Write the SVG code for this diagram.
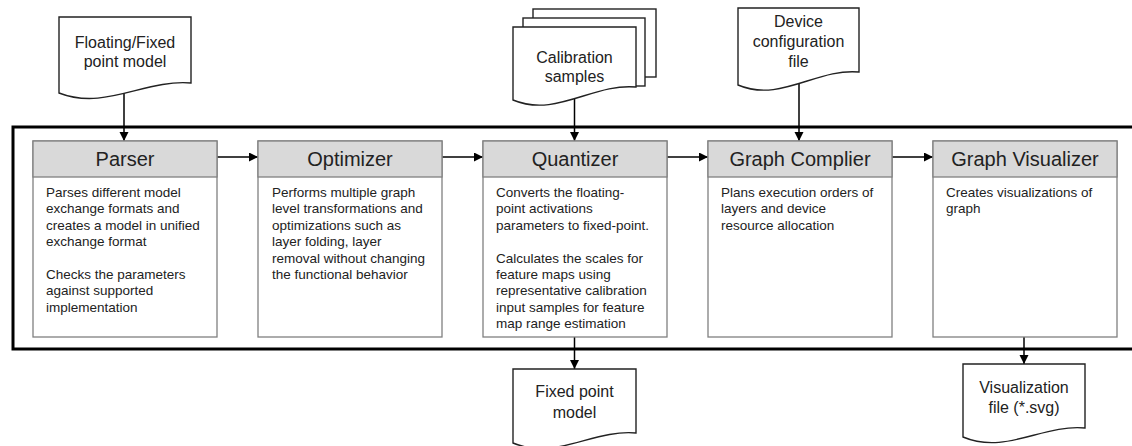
<svg xmlns="http://www.w3.org/2000/svg" width="1132" height="446" viewBox="0 0 1132 446">
  <style>
    .frame { fill: none; stroke: #000; stroke-width: 3; }
    .box { fill: #fff; stroke: #808080; stroke-width: 1.3; }
    .head { fill: #d9d9d9; stroke: #808080; stroke-width: 1.3; }
    .doc { fill: #fff; stroke: #222; stroke-width: 1.4; }
    .title { font-family: "Liberation Sans", Arial, sans-serif; font-size: 20px; fill: #222; text-anchor: middle; }
    .body { font-family: "Liberation Sans", Arial, sans-serif; font-size: 13.5px; fill: #222; }
    .doctext { font-family: "Liberation Sans", Arial, sans-serif; font-size: 16px; fill: #222; text-anchor: middle; }
    .conn { fill: none; stroke: #000; stroke-width: 1.5; marker-end: url(#arrow); }
  </style>
  <defs>
    <marker id="arrow" markerUnits="userSpaceOnUse" markerWidth="10" markerHeight="10" refX="9" refY="4.5" orient="auto">
      <path d="M0,0 L9,4.5 L0,9 Z" fill="#000"/>
    </marker>
  </defs>

  <rect width="1132" height="446" fill="#fff"/>

  <!-- container frame -->
  <g id="frame">
    <rect class="frame" x="13" y="127" width="1135" height="222"/>
  </g>

  <!-- connectors -->
  <g id="connectors">
    <line class="conn" x1="124" y1="92" x2="124" y2="141"/>
    <line class="conn" x1="574.5" y1="98" x2="574.5" y2="141"/>
    <line class="conn" x1="799" y1="84" x2="799" y2="141"/>
    <line class="conn" x1="217" y1="157" x2="258" y2="157"/>
    <line class="conn" x1="442" y1="157" x2="483" y2="157"/>
    <line class="conn" x1="667" y1="157" x2="708" y2="157"/>
    <line class="conn" x1="892" y1="157" x2="933" y2="157"/>
    <line class="conn" x1="574.5" y1="337" x2="574.5" y2="369"/>
    <line class="conn" x1="1024" y1="337" x2="1024" y2="364"/>
  </g>

  <!-- input documents -->
  <g id="doc-model">
    <path class="doc" d="M59,17 H191 V83 C144.8,79 105.2,111 59,93 Z"/>
    <text class="doctext" x="125" y="48">Floating/Fixed</text>
    <text class="doctext" x="125" y="67">point model</text>
  </g>

  <g id="doc-calibration">
    <rect class="doc" x="533" y="9" width="123" height="68"/>
    <rect class="doc" x="523" y="18" width="122" height="68"/>
    <path class="doc" d="M513,27 H636 V87 C593,83 556,118 513,100 Z"/>
    <text class="doctext" x="574.5" y="63">Calibration</text>
    <text class="doctext" x="574.5" y="82">samples</text>
  </g>

  <g id="doc-device">
    <path class="doc" d="M738,8 H859 V72 C816.7,68 780.4,103 738,85 Z"/>
    <text class="doctext" x="798.5" y="27">Device</text>
    <text class="doctext" x="798.5" y="47">configuration</text>
    <text class="doctext" x="798.5" y="67">file</text>
  </g>

  <!-- pipeline stages -->
  <g id="parser">
    <rect class="box" x="33" y="141" width="184" height="196"/>
    <rect class="head" x="33" y="141" width="184" height="36"/>
    <text class="title" x="125" y="166">Parser</text>
    <text class="body" x="46" y="197">
      <tspan x="46">Parses different model</tspan>
      <tspan x="46" dy="16.4">exchange formats and</tspan>
      <tspan x="46" dy="16.4">creates a model in unified</tspan>
      <tspan x="46" dy="16.4">exchange format</tspan>
      <tspan x="46" dy="32.8">Checks the parameters</tspan>
      <tspan x="46" dy="16.4">against supported</tspan>
      <tspan x="46" dy="16.4">implementation</tspan>
    </text>
  </g>

  <g id="optimizer">
    <rect class="box" x="258" y="141" width="184" height="196"/>
    <rect class="head" x="258" y="141" width="184" height="36"/>
    <text class="title" x="350" y="166">Optimizer</text>
    <text class="body" x="272" y="197">
      <tspan x="272">Performs multiple graph</tspan>
      <tspan x="272" dy="16.4">level transformations and</tspan>
      <tspan x="272" dy="16.4">optimizations such as</tspan>
      <tspan x="272" dy="16.4">layer folding, layer</tspan>
      <tspan x="272" dy="16.4">removal without changing</tspan>
      <tspan x="272" dy="16.4">the functional behavior</tspan>
    </text>
  </g>

  <g id="quantizer">
    <rect class="box" x="483" y="141" width="184" height="196"/>
    <rect class="head" x="483" y="141" width="184" height="36"/>
    <text class="title" x="575" y="166">Quantizer</text>
    <text class="body" x="496" y="197">
      <tspan x="496">Converts the floating-</tspan>
      <tspan x="496" dy="16.4">point activations</tspan>
      <tspan x="496" dy="16.4">parameters to fixed-point.</tspan>
      <tspan x="496" dy="32.8">Calculates the scales for</tspan>
      <tspan x="496" dy="16.4">feature maps using</tspan>
      <tspan x="496" dy="16.4">representative calibration</tspan>
      <tspan x="496" dy="16.4">input samples for feature</tspan>
      <tspan x="496" dy="16.4">map range estimation</tspan>
    </text>
  </g>

  <g id="graph-compiler">
    <rect class="box" x="708" y="141" width="184" height="196"/>
    <rect class="head" x="708" y="141" width="184" height="36"/>
    <text class="title" x="800" y="166">Graph Complier</text>
    <text class="body" x="721" y="197">
      <tspan x="721">Plans execution orders of</tspan>
      <tspan x="721" dy="16.4">layers and device</tspan>
      <tspan x="721" dy="16.4">resource allocation</tspan>
    </text>
  </g>

  <g id="graph-visualizer">
    <rect class="box" x="933" y="141" width="184" height="196"/>
    <rect class="head" x="933" y="141" width="184" height="36"/>
    <text class="title" x="1025" y="166">Graph Visualizer</text>
    <text class="body" x="946" y="197">
      <tspan x="946">Creates visualizations of</tspan>
      <tspan x="946" dy="16.4">graph</tspan>
    </text>
  </g>

  <!-- output documents -->
  <g id="doc-fixed-model">
    <path class="doc" d="M513,369 H636 V433 C593,429 556,461 513,443 Z"/>
    <text class="doctext" x="574.5" y="397">Fixed point</text>
    <text class="doctext" x="574.5" y="418">model</text>
  </g>

  <g id="doc-visualization">
    <path class="doc" d="M963,364 H1085 V428 C1042.3,424 1005.7,455 963,437 Z"/>
    <text class="doctext" x="1024" y="393">Visualization</text>
    <text class="doctext" x="1024" y="413">file (*.svg)</text>
  </g>
</svg>
